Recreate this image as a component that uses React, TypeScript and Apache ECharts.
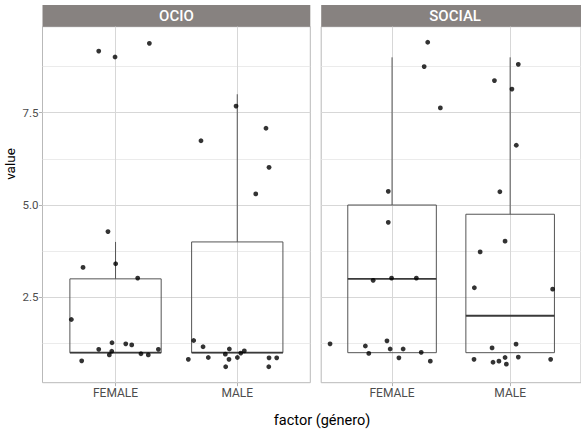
import React, { useEffect, useRef } from "react";
import * as echarts from "echarts";

// ---- data ----
const panels = ["OCIO", "SOCIAL"];
const categories = ["FEMALE", "MALE"];
const yTicks = [2.5, 5.0, 7.5];
const yMinor = [1.25, 3.75, 6.25, 8.75];

// box stats: [lower whisker, Q1, median, Q3, upper whisker]
const ocioFemaleBox = [1, 1, 1, 3, 4];
const ocioMaleBox = [1, 1, 1, 4, 8];
const socialFemaleBox = [1, 1, 3, 5, 9];
const socialMaleBox = [1, 1, 2, 4.75, 9];

// jittered points: x (category position + jitter), y (value + jitter)
const ocioFemaleX = [0.862, 0.996, 1.278, 0.938, 1.001, 0.733, 1.182, 0.637, 0.971, 1.084, 1.133, 0.862, 0.969, 1.352, 0.949, 1.209, 1.269, 0.722];
const ocioFemaleY = [9.17, 9.01, 9.38, 4.28, 3.41, 3.31, 3.02, 1.9, 1.27, 1.24, 1.21, 1.09, 1.04, 1.09, 0.94, 0.97, 0.94, 0.78];
const ocioMaleX = [1.99, 2.236, 1.702, 2.261, 2.152, 1.642, 1.719, 1.935, 2.058, 2.029, 1.902, 1.598, 1.762, 1.932, 2.001, 2.261, 2.324, 1.905, 2.259];
const ocioMaleY = [7.68, 7.08, 6.74, 6.02, 5.3, 1.33, 1.16, 1.1, 1.05, 0.99, 0.96, 0.82, 0.87, 0.82, 0.87, 0.86, 0.86, 0.62, 0.62];
const socialFemaleX = [1.302, 1.272, 1.409, 0.968, 0.968, 0.84, 0.996, 1.206, 0.475, 0.957, 0.774, 0.984, 1.094, 0.803, 1.247, 1.058, 1.324];
const socialFemaleY = [9.41, 8.75, 7.63, 5.37, 4.53, 2.96, 3.02, 3.02, 1.24, 1.32, 1.18, 1.1, 1.1, 0.98, 1.01, 0.86, 0.77];
const socialMaleX = [2.069, 1.867, 2.015, 2.052, 1.913, 1.957, 1.746, 1.697, 2.36, 2.05, 1.847, 1.694, 2.069, 1.957, 1.855, 1.905, 1.968, 2.343];
const socialMaleY = [8.81, 8.37, 8.14, 6.62, 5.36, 4.02, 3.73, 2.76, 2.72, 1.23, 1.13, 0.82, 0.88, 0.87, 0.74, 0.77, 0.69, 0.82];

const Y_MIN = 0.187;
const Y_MAX = 9.83;
const X_MIN = 0.4;
const X_MAX = 2.6;

const zip = (xs: number[], ys: number[]) => xs.map((x, i) => [x, ys[i]]);

const BOX_STROKE = "#555555";

function renderBox(params: any, api: any) {
  const x = api.value(0);
  const lo = api.value(1);
  const q1 = api.value(2);
  const med = api.value(3);
  const q3 = api.value(4);
  const hi = api.value(5);
  const hw = 0.375;
  const pTL = api.coord([x - hw, q3]);
  const pBR = api.coord([x + hw, q1]);
  const pHi = api.coord([x, hi]);
  const pLo = api.coord([x, lo]);
  const pMed = api.coord([x, med]);
  const cx = api.coord([x, q3])[0];
  const children: any[] = [];
  children.push({
    type: "line",
    shape: { x1: cx, y1: pHi[1], x2: cx, y2: pTL[1] },
    style: { stroke: BOX_STROKE, lineWidth: 1 },
  });
  children.push({
    type: "line",
    shape: { x1: cx, y1: pBR[1], x2: cx, y2: pLo[1] },
    style: { stroke: BOX_STROKE, lineWidth: 1 },
  });
  children.push({
    type: "rect",
    shape: { x: pTL[0], y: pTL[1], width: pBR[0] - pTL[0], height: pBR[1] - pTL[1] },
    style: { fill: "none", stroke: BOX_STROKE, lineWidth: 1 },
  });
  children.push({
    type: "line",
    shape: { x1: pTL[0], y1: pMed[1], x2: pBR[0], y2: pMed[1] },
    style: { stroke: "#3a3a3a", lineWidth: 1.8 },
  });
  return { type: "group", children };
}

export default function App() {
  const ref = useRef<HTMLDivElement>(null);
  useEffect(() => {
    if (!ref.current) return;
    const chart = echarts.init(ref.current, undefined, { renderer: "svg" });
    const font = "Roboto";
    const gridDefs = [
      { left: 42.5, top: 26.7, width: 267.8, height: 356 },
      { left: 321.2, top: 26.7, width: 267.8, height: 356 },
    ];
    const boxes = [
      [
        [1, ...ocioFemaleBox],
        [2, ...ocioMaleBox],
      ],
      [
        [1, ...socialFemaleBox],
        [2, ...socialMaleBox],
      ],
    ];
    const pts = [
      [...zip(ocioFemaleX, ocioFemaleY), ...zip(ocioMaleX, ocioMaleY)],
      [...zip(socialFemaleX, socialFemaleY), ...zip(socialMaleX, socialMaleY)],
    ];

    const series: any[] = [];
    panels.forEach((_, i) => {
      // grid lines
      series.push({
        type: "scatter",
        xAxisIndex: i,
        yAxisIndex: i,
        data: [],
        silent: true,
        z: 1,
        markLine: {
          silent: true,
          symbol: "none",
          animation: false,
          z: 1,
          label: { show: false },
          emphasis: { disabled: true },
          data: [
            ...yMinor.map((v) => ({ yAxis: v, lineStyle: { color: "#e6e6e6", width: 0.8, type: "solid" } })),
            ...yTicks.map((v) => ({ yAxis: v, lineStyle: { color: "#d7d7d7", width: 1, type: "solid" } })),
            ...categories.map((_, k) => ({ xAxis: k + 1, lineStyle: { color: "#d7d7d7", width: 1, type: "solid" } })),
          ],
        },
      });
      series.push({
        type: "custom",
        xAxisIndex: i,
        yAxisIndex: i,
        z: 9,
        renderItem: renderBox,
        data: boxes[i],
        encode: { x: 0, y: [1, 2, 3, 4, 5] },
        clip: false,
      });
      series.push({
        type: "scatter",
        xAxisIndex: i,
        yAxisIndex: i,
        z: 10,
        symbol: "circle",
        symbolSize: 4.8,
        itemStyle: { color: "#000000" },
        data: pts[i],
      });
    });

    const graphics: any[] = [];
    panels.forEach((name, i) => {
      const g = gridDefs[i];
      graphics.push({
        type: "rect",
        shape: { x: g.left, y: 5, width: g.width, height: 21.7 },
        style: { fill: "#878280" },
        silent: true,
      });
      graphics.push({
        type: "text",
        x: g.left + g.width / 2,
        y: 16.2,
        style: {
          text: name,
          fill: "#ffffff",
          font: `500 15px ${font}`,
          align: "center",
          verticalAlign: "middle",
        },
        silent: true,
      });
    });
    graphics.push({
      type: "text",
      x: 10,
      y: 164,
      rotation: Math.PI / 2,
      style: {
        text: "value",
        fill: "#000000",
        font: `13.5px ${font}`,
        align: "center",
        verticalAlign: "middle",
      },
    });
    graphics.push({
      type: "text",
      x: 322,
      y: 420,
      style: {
        text: "factor (género)",
        fill: "#000000",
        font: `14.5px ${font}`,
        align: "center",
        verticalAlign: "middle",
      },
    });

    chart.setOption({
      animation: false,
      backgroundColor: "#ffffff",
      grid: gridDefs.map((g) => ({
        ...g,
        show: true,
        backgroundColor: "#ffffff",
        borderColor: "#b9b9b9",
        borderWidth: 1,
        z: 0,
      })),
      xAxis: gridDefs.map((_, i) => ({
        type: "value",
        gridIndex: i,
        min: X_MIN,
        max: X_MAX,
        axisLine: { show: false },
        splitLine: { show: false },
        axisTick: {
          show: true,
          length: 3.5,
          customValues: categories.map((_, k) => k + 1),
          lineStyle: { color: "#b3b3b3", width: 1 },
        },
        axisLabel: {
          show: true,
          customValues: categories.map((_, k) => k + 1),
          formatter: (v: number) => categories[Math.round(v) - 1] ?? "",
          color: "#4d4d4d",
          fontFamily: font,
          fontSize: 12,
          margin: 4,
        },
      })),
      yAxis: gridDefs.map((_, i) => ({
        type: "value",
        gridIndex: i,
        min: Y_MIN,
        max: Y_MAX,
        axisLine: { show: false },
        splitLine: { show: false },
        axisTick: {
          show: i === 0,
          length: 3.5,
          customValues: yTicks,
          lineStyle: { color: "#b3b3b3", width: 1 },
        },
        axisLabel: {
          show: i === 0,
          customValues: yTicks,
          formatter: (v: number) => v.toFixed(1),
          color: "#4d4d4d",
          fontFamily: font,
          fontSize: 11.5,
          margin: 4,
        },
      })),
      series,
      graphic: graphics,
    });
    return () => chart.dispose();
  }, []);
  return (
    <div
      ref={ref}
      style={{ position: "fixed", left: 0, top: 0, width: 581, height: 430 }}
    />
  );
}
